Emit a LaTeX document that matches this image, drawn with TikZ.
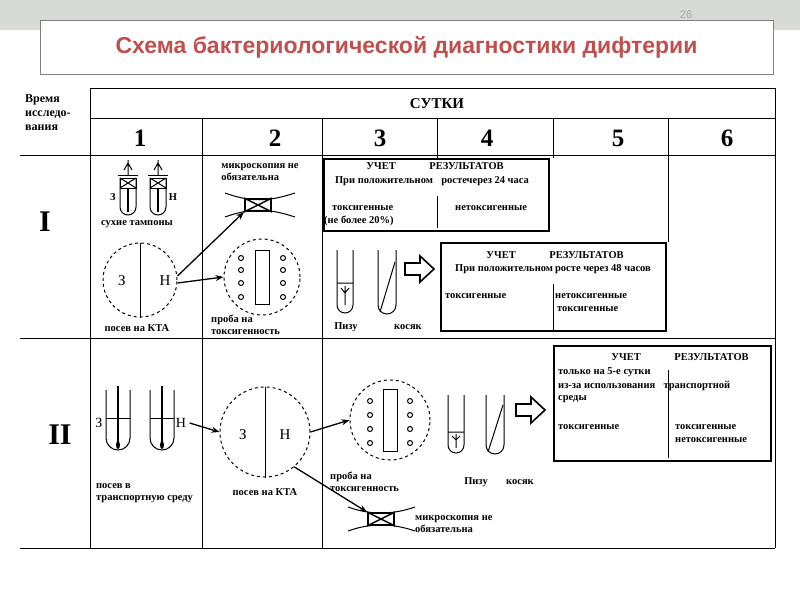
\documentclass[tikz,border=0pt]{standalone}
\usepackage{fontspec}
\setmainfont{Liberation Serif}
\newfontfamily\titlefont{Liberation Sans}
\usetikzlibrary{arrows.meta}
\definecolor{titlered}{RGB}{192,80,77}
\definecolor{band}{RGB}{215,218,215}
\begin{document}
\begin{tikzpicture}[x=1pt,y=-1pt,
  lbl/.style={font=\fontsize{10.5}{12}\selectfont\bfseries,inner sep=0pt,align=left},
  big/.style={font=\fontsize{30}{32}\selectfont\bfseries,inner sep=0pt},
  grid/.style={line width=0.8pt},
  res/.style={draw,line width=1.8pt},
  arr/.style={line width=1.3pt,-{Stealth[length=8pt,width=6pt]}},
  hol/.style={draw,line width=1.6pt,fill=white},
  sk/.style={line width=1pt}]
\useasboundingbox (0,0) rectangle (800,600);
\fill[white] (0,0) rectangle (800,600);
\fill[band] (0,0) rectangle (800,30);
\node[font=\titlefont\fontsize{11}{12}\selectfont,text=gray!70] (pg) at (686,15) {26};
\node[draw=gray,fill=white,minimum width=733pt,minimum height=54pt,inner sep=0pt,
  font=\titlefont\fontsize{23}{25}\selectfont\bfseries,text=titlered] (title) at (406.5,47) {Схема бактериологической диагностики дифтерии};
% grid
\draw[grid] (90,88) -- (775,88) (90,118) -- (775,118) (20,155) -- (775,155)
  (20,338) -- (775,338) (20,548) -- (775,548);
\draw[grid] (90,88) -- (90,548) (202,118) -- (202,548) (322,118) -- (322,548)
  (437,118) -- (437,158) (553,118) -- (553,158) (668,118) -- (668,242) (775,88) -- (775,548);
\node[lbl,anchor=north west,font=\fontsize{12}{14}\selectfont\bfseries] (time) at (25,94) {Время\\исследо-\\вания};
\node[font=\fontsize{15}{16}\selectfont\bfseries] (sut) at (437,104) {СУТКИ};
\foreach \x/\n in {140/1,275/2,380/3,487/4,618/5,727/6}
  \node[big,font=\fontsize{25}{26}\selectfont\bfseries] (d\n) at (\x,138) {\n};
\node[big] (r1) at (45,222) {I};
\node[big] (r2) at (60,435) {II};
% result boxes
\node[res,minimum width=225pt,minimum height=72pt,anchor=north west] (boxA) at (323,158) {};
\node[lbl] (a1) at (435,166) {УЧЕТ\hspace{3.2em}РЕЗУЛЬТАТОВ};
\node[lbl] (a2) at (432,181) {При положительном\hspace{0.8em}ростечерез 24 часа};
\node[lbl,anchor=west] (a3) at (332,208) {токсигенные};
\node[lbl,anchor=west] (a3b) at (455,208) {нетоксигенные};
\node[lbl,anchor=west] (a4) at (324,221) {(не более 20\%)};
\draw[line width=0.8pt] (437,196) -- (437,228);
\node[res,minimum width=225pt,minimum height=88pt,anchor=north west] (boxB) at (440,242) {};
\node[lbl] (b1) at (555,255) {УЧЕТ\hspace{3.2em}РЕЗУЛЬТАТОВ};
\node[lbl] (b2) at (553,269) {При положительном\hspace{0.2em}росте через 48 часов};
\node[lbl,anchor=west] (b3) at (445,296) {токсигенные};
\node[lbl,anchor=west] (b4) at (555,296) {нетоксигенные};
\node[lbl,anchor=west] (b5) at (557,309) {токсигенные};
\draw[line width=0.8pt] (553,284) -- (553,330);
\node[res,minimum width=217pt,minimum height=115pt,anchor=north west] (boxC) at (553,345) {};
\node[lbl] (c1) at (680,357) {УЧЕТ\hspace{3.2em}РЕЗУЛЬТАТОВ};
\node[lbl,anchor=west] (c2) at (558,372) {только на 5-е сутки};
\node[lbl,anchor=west] (c3) at (558,386) {из-за использования\hspace{0.8em}транспортной};
\node[lbl,anchor=west] (c4) at (558,399) {среды};
\node[lbl,anchor=west] (c5) at (558,427) {токсигенные};
\node[lbl,anchor=west] (c6) at (675,427) {токсигенные};
\node[lbl,anchor=west] (c7) at (675,440) {нетоксигенные};
\draw[line width=0.8pt] (668,370) -- (668,458);
% ---- Row I col 1: tubes
\foreach \x in {128,158}{
  \draw[sk] (\x-8,178) -- (\x-8,207) arc[start angle=180,end angle=0,radius=8] -- (\x+8,178);
  \draw[sk] (\x-10,175) -- (\x+10,175) (\x-8,178) rectangle (\x+8,188);
  \draw[sk] (\x-8,178) -- (\x+8,188) (\x+8,178) -- (\x-8,188);
  \draw[line width=1.8pt] (\x,188) -- (\x,212);
  \draw[sk] (\x,160) -- (\x,175) (\x-4,170) -- (\x,163) -- (\x+4,170);}
\node[lbl] (z1) at (113,197) {З};
\node[lbl] (h1) at (173,197) {Н};
\node[lbl] (st) at (137,224) {сухие тампоны};
\node[draw,dashed,circle,minimum size=74pt,inner sep=0pt,sk] (dish1) at (140,280) {};
\draw[sk] (dish1.north) -- (dish1.south);
\node[font=\fontsize{15}{15}\selectfont] (z2) at (122,281) {З};
\node[font=\fontsize{15}{15}\selectfont] (h2) at (165,281) {Н};
\node[lbl] (pk1) at (137,328) {посев на КТА};
% col 2
\node[lbl] (m1) at (260,172) {микроскопия не\\обязательна};
\node[draw,line width=2pt,minimum width=26pt,minimum height=12pt,inner sep=0pt] (mic1) at (258,205) {};
\draw[line width=1.4pt] (mic1.north west) -- (mic1.south east) (mic1.north east) -- (mic1.south west);
\draw[sk] (225,193) .. controls (250,202) and (268,202) .. (295,193);
\draw[sk] (225,217) .. controls (250,208) and (268,208) .. (295,217);
\node[draw,dashed,circle,minimum size=76pt,inner sep=0pt,sk] (dish2) at (262,277) {};
\node[draw,sk,minimum width=14pt,minimum height=54pt,inner sep=0pt] (strip1) at (262,277) {};
\foreach \yy in {258,270,283,297}{\draw[sk] (241,\yy) circle (2.5) (283,\yy) circle (2.5);}
\node[lbl] (pt1) at (211,325) [anchor=west] {проба на\\токсигенность};
\draw[arr] (dish1.east) ++(0,-4) -- (mic1.south west);
\draw[arr] (dish1.east) ++(0,3) -- (dish2.west);
% col 3 row I
\draw[sk] (337,250) -- (337,305) arc[start angle=180,end angle=0,radius=8] -- (353,250);
\draw[sk] (337,283) -- (353,283) (345,286) -- (345,305) (341,288) -- (345,293) -- (349,288);
\draw[sk] (378,250) -- (378,305) arc[start angle=180,end angle=0,radius=9] -- (396,250);
\draw[sk] (380,312) -- (395,262);
\node[lbl] (pz1) at (346,327) {Пизу};
\node[lbl] (ks1) at (408,327) {косяк};
\draw[hol] (405,263) -- (420,263) -- (420,256) -- (434,269) -- (420,282) -- (420,275) -- (405,275) -- cycle;
% ---- Row II
\foreach \x in {118,162}{
  \draw[sk] (\x-12,390) -- (\x-12,438) arc[start angle=180,end angle=0,radius=12] -- (\x+12,390);
  \draw[sk] (\x-12,418) -- (\x+12,418);
  \draw[line width=1.4pt] (\x,386) -- (\x,445);
  \fill (\x,445) ellipse (2 and 4);}
\node[font=\fontsize{14}{14}\selectfont] (z3) at (99,423) {З};
\node[font=\fontsize{14}{14}\selectfont] (h3) at (181,423) {Н};
\node[lbl,anchor=west] (pt2) at (96,493) {посев в\\транспортную среду};
\node[draw,dashed,circle,minimum size=90pt,inner sep=0pt,sk] (dish3) at (265,432) {};
\draw[sk] (dish3.north) -- (dish3.south);
\node[font=\fontsize{15}{15}\selectfont] (z4) at (243,435) {З};
\node[font=\fontsize{15}{15}\selectfont] (h4) at (285,435) {Н};
\node[lbl] (pk2) at (265,492) {посев на КТА};
\draw[arr] (h3.east) -- (dish3.west);
\node[draw,dashed,circle,minimum size=80pt,inner sep=0pt,sk] (dish4) at (390,420) {};
\node[draw,sk,minimum width=14pt,minimum height=62pt,inner sep=0pt] (strip2) at (390,420) {};
\foreach \yy in {401,415,429,443}{\draw[sk] (370,\yy) circle (2.5) (410,\yy) circle (2.5);}
\draw[arr] (dish3.east) -- (dish4.west);
\node[lbl,anchor=west] (pt3) at (330,482) {проба на\\токсигенность};
\draw[sk] (448,395) -- (448,445) arc[start angle=180,end angle=0,radius=8] -- (464,395);
\draw[sk] (448,432) -- (464,432) (456,434) -- (456,448) (452,436) -- (456,440) -- (460,436);
\draw[sk] (486,395) -- (486,445) arc[start angle=180,end angle=0,radius=9] -- (504,395);
\draw[sk] (488,452) -- (503,405);
\node[lbl] (pz2) at (476,482) {Пизу};
\node[lbl] (ks2) at (520,482) {косяк};
\draw[hol] (516,404) -- (531,404) -- (531,397) -- (545,410) -- (531,423) -- (531,416) -- (516,416) -- cycle;
\node[draw,line width=2pt,minimum width=26pt,minimum height=12pt,inner sep=0pt] (mic2) at (381,519) {};
\draw[line width=1.4pt] (mic2.north west) -- (mic2.south east) (mic2.north east) -- (mic2.south west);
\draw[sk] (348,507) .. controls (370,515) and (392,515) .. (415,507);
\draw[sk] (348,531) .. controls (370,523) and (392,523) .. (415,531);
\node[lbl,anchor=west] (m2) at (415,524) {микроскопия не\\обязательна};
\draw[arr] (dish3.-50) -- (mic2.north west);
\end{tikzpicture}
\end{document}
